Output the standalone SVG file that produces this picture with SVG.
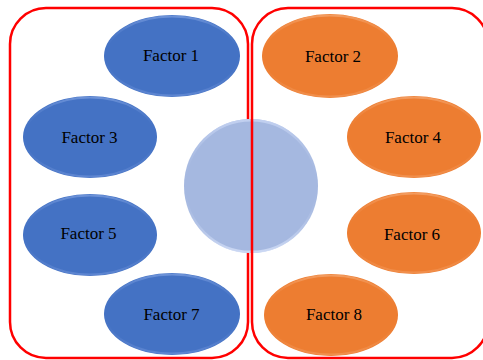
<svg xmlns="http://www.w3.org/2000/svg" width="483" height="360" viewBox="0 0 483 360">
  <defs>
    <linearGradient id="rimBlue" x1="0" y1="0" x2="0" y2="1">
      <stop offset="0" stop-color="#7d9fe0" stop-opacity="0.7"/>
      <stop offset="0.45" stop-color="#4472c4" stop-opacity="0"/>
      <stop offset="1" stop-color="#6f93da" stop-opacity="0.6"/>
    </linearGradient>
    <linearGradient id="rimOrange" x1="0" y1="0" x2="0" y2="1">
      <stop offset="0" stop-color="#f5a872" stop-opacity="0.7"/>
      <stop offset="0.45" stop-color="#ed7d31" stop-opacity="0"/>
      <stop offset="1" stop-color="#f39b5e" stop-opacity="0.6"/>
    </linearGradient>
    <linearGradient id="rimHub" x1="0" y1="0" x2="0" y2="1">
      <stop offset="0" stop-color="#c9d6f4" stop-opacity="0.8"/>
      <stop offset="0.5" stop-color="#a5b8e0" stop-opacity="0"/>
      <stop offset="1" stop-color="#d5e0f8" stop-opacity="0.8"/>
    </linearGradient>
  </defs>
  <style>
    .panel { fill: none; stroke: #ff0000; stroke-width: 2.5; }
    .blue { fill: #4472c4; }
    .orange { fill: #ed7d31; }
    .rim-b { fill: none; stroke: url(#rimBlue); stroke-width: 2; }
    .rim-o { fill: none; stroke: url(#rimOrange); stroke-width: 2; }
    .label { font-size: 17px; fill: #000; text-anchor: middle; dominant-baseline: central; }
  </style>

  <rect width="483" height="360" fill="#ffffff"/>

  <!-- left panel -->
  <g id="panel-left">
    <rect class="panel" x="10" y="8" width="238" height="350" rx="36" ry="36"/>
  </g>

  <!-- central hub -->
  <g id="hub">
    <circle cx="251" cy="186" r="67" fill="#a5b8e0"/>
    <circle cx="251" cy="186" r="65.8" fill="none" stroke="url(#rimHub)" stroke-width="2.4"/>
  </g>

  <!-- right panel -->
  <g id="panel-right">
    <rect class="panel" x="252" y="8" width="236" height="350" rx="36" ry="36"/>
  </g>

  <g font-family="'Liberation Serif', 'DejaVu Serif', 'Times New Roman', serif">
    <g id="factor-1">
      <ellipse class="blue" cx="172" cy="56" rx="68" ry="41"/>
      <ellipse class="rim-b" cx="172" cy="56" rx="66.5" ry="39.5"/>
      <text class="label" x="171" y="55">Factor 1</text>
    </g>
    <g id="factor-3">
      <ellipse class="blue" cx="90" cy="137" rx="67" ry="41"/>
      <ellipse class="rim-b" cx="90" cy="137" rx="65.5" ry="39.5"/>
      <text class="label" x="89.5" y="137">Factor 3</text>
    </g>
    <g id="factor-5">
      <ellipse class="blue" cx="90" cy="235" rx="67" ry="41"/>
      <ellipse class="rim-b" cx="90" cy="235" rx="65.5" ry="39.5"/>
      <text class="label" x="88.5" y="233">Factor 5</text>
    </g>
    <g id="factor-7">
      <ellipse class="blue" cx="172" cy="314" rx="68" ry="41"/>
      <ellipse class="rim-b" cx="172" cy="314" rx="66.5" ry="39.5"/>
      <text class="label" x="171.5" y="314">Factor 7</text>
    </g>

    <g id="factor-2">
      <ellipse class="orange" cx="330" cy="56" rx="68" ry="42"/>
      <ellipse class="rim-o" cx="330" cy="56" rx="66.5" ry="40.5"/>
      <text class="label" x="333" y="56">Factor 2</text>
    </g>
    <g id="factor-4">
      <ellipse class="orange" cx="414" cy="137" rx="67" ry="41"/>
      <ellipse class="rim-o" cx="414" cy="137" rx="65.5" ry="39.5"/>
      <text class="label" x="413" y="137">Factor 4</text>
    </g>
    <g id="factor-6">
      <ellipse class="orange" cx="414" cy="233" rx="67" ry="41"/>
      <ellipse class="rim-o" cx="414" cy="233" rx="65.5" ry="39.5"/>
      <text class="label" x="412" y="234">Factor 6</text>
    </g>
    <g id="factor-8">
      <ellipse class="orange" cx="331" cy="315" rx="67" ry="41"/>
      <ellipse class="rim-o" cx="331" cy="315" rx="65.5" ry="39.5"/>
      <text class="label" x="334" y="314">Factor 8</text>
    </g>
  </g>
</svg>
